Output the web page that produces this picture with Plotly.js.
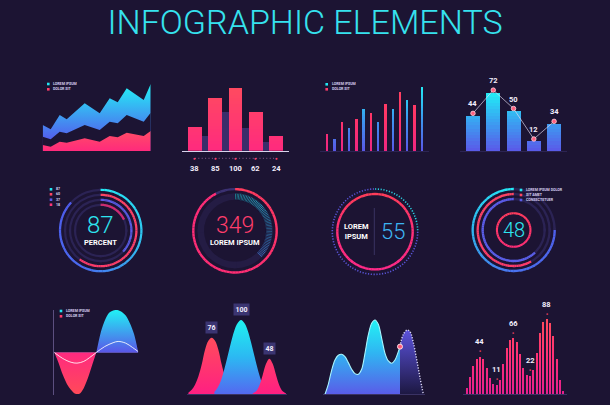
<!DOCTYPE html>
<html><head><meta charset="utf-8">
<script src="https://cdn.plot.ly/plotly-3.0.1.min.js"></script>
<style>html,body{margin:0;padding:0;background:#1c1433;}#chart{width:610px;height:405px;}
.cartesianlayer .barlayer .point path{shape-rendering:crispEdges;}</style>
</head><body><div id="chart"></div>
<script>
// ================= DATA =================
const titleText = 'INFOGRAPHIC ELEMENTS';
const legendNames = ['LOREM IPSUM', 'DOLOR SIT'];

// Panel 1 - stacked area
const areaX   = [0, 8, 17, 24, 42, 57, 67, 75, 84, 101, 108];
const areaTop = [78, 65, 108, 95, 143, 113, 158, 146, 188, 153, 201];
const areaMid = [43, 35, 58, 53, 78, 63, 88, 83, 108, 88, 115];
const areaLow = [18, 13, 28, 25, 38, 28, 45, 41, 55, 45, 60];

// Panel 2 - histogram bars
const histCats = [0, 1, 2, 3, 4];
const histVals = [38, 85, 100, 62, 24];
const histShadowX = [0.5, 1.5, 2.5, 3.5];
const histShadowVals = [23, 62, 37, 14];

// Panel 3 - thin bars, two series
const thinPinkX = [0, 2, 4, 6, 8, 10, 12];
const thinPinkVals = [51, 86, 96, 113, 142, 176, 137];
const thinBlueX = [1, 3, 5, 7, 9, 11, 13];
const thinBlueVals = [35, 68, 125, 86, 125, 153, 193];

// Panel 4 - bars + line
const comboCats = [0, 1, 2, 3, 4];
const comboBars = [44, 72, 50, 12, 34];
const comboLine = [47, 76, 53, 15, 37];

// Panel 5 - concentric percent rings
const ringVals = [87, 60, 37, 18];
const ringLabels = ['87', '60', '37', '18'];
const ringCenterText = '87';
const ringCaption = 'PERCENT';

// Panel 6 - gauge
const gaugeOuterVal = 92.5;
const gaugeInnerVal = 37.5;
const gaugeNumber = '349';
const gaugeCaption = 'LOREM IPSUM';

// Panel 7 - ring with number
const donutNumber = '55';
const donutCaption = 'LOREM<br>IPSUM';

// Panel 8 - multi ring
const multiVals = [75, 58, 62];
const multiLabels = ['LOREM IPSUM DOLOR', 'SIT AMET', 'CONSECTETUER'];
const multiNumber = '48';

// Panel 9 - wave
const waveNegX = [0, 0.5, 1, 1.5, 2, 2.5, 3, 3.5, 4, 4.5, 5];
const waveNegVals = [0, -24, -52, -74, -88, -97, -97, -84, -60, -30, 0];
const wavePosX = [5, 5.5, 6, 6.5, 7, 7.5, 8, 8.5, 9, 9.5, 10];
const wavePosVals = [0, 45, 75, 93, 99, 100, 96, 87, 69, 43, 0];
const waveLineX = [0, 1, 2, 2.7, 3.5, 4.2, 5, 6, 7, 7.6, 8.5, 9.3, 10];
const waveLineVals = [0, -14, -23, -25, -21, -12, 0, 14, 23, 26, 22, 12, 2];

// Panel 10 - three peaks
const peakAX = [25, 35, 45, 55, 65, 75, 85, 95, 105, 115, 125, 135, 145, 155, 165];
const peakAVals = [2, 6, 13, 24, 40, 60, 72, 76, 72, 60, 40, 24, 13, 6, 2];
const peakBX = [103, 113, 123, 133, 143, 153, 163, 173, 183, 193, 203, 213, 223, 233, 243, 253, 263];
const peakBVals = [3, 9, 19, 34, 52, 70, 86, 96, 100, 96, 86, 70, 52, 34, 19, 9, 3];
const peakCX = [218, 228, 238, 248, 258, 268, 278, 288, 298, 308, 318];
const peakCVals = [1, 4, 12, 26, 41, 48, 41, 26, 12, 4, 1];
const peakLabelX = [95, 183, 268];
const peakLabelVals = [76, 100, 48];

// Panel 11 - area with projected part
const solidX = [45, 55, 65, 75, 85, 95, 105, 115, 125, 135, 145, 155, 165, 175, 185, 195, 205, 215, 225, 235, 245, 255, 265, 270];
const solidVals = [0, 30, 72, 103, 117, 120, 113, 95, 75, 62, 60, 75, 123, 178, 213, 223, 210, 168, 123, 100, 93, 103, 128, 143];
const projX = [270, 280, 292, 300, 310, 320, 330, 340];
const projVals = [143, 180, 193, 188, 155, 105, 50, 0];

// Panel 12 - spike bars
const spikeX = [50, 60, 70, 80, 90, 100, 110, 120, 130, 140, 150, 160, 170, 180, 190, 200, 210, 220, 230, 240, 250, 260, 270, 280, 290, 300, 310, 320, 330, 340];
const spikeVals = [8, 20, 33, 42, 44, 41, 31, 19, 12, 11, 17, 36, 55, 64, 66, 61, 47, 31, 23, 22, 29, 49, 72, 85, 88, 84, 68, 42, 17, 4];
const spikeMarkX = [90, 140, 190, 240, 290];
const spikeMarkVals = [44, 11, 66, 22, 88];

// ================= HELPERS =================
const W = 610, H = 405, BG = '#1c1433';
const PX = p => p / W, PY = p => 1 - p / H;
function hexToRgb(h){h=h.replace('#','');return [parseInt(h.substr(0,2),16),parseInt(h.substr(2,2),16),parseInt(h.substr(4,2),16)];}
function ramp(stops,t){t=Math.max(0,Math.min(1,t));const n=stops.length-1;const s=Math.min(n-1,Math.floor(t*n));const f=t*n-s;const a=hexToRgb(stops[s]),b=hexToRgb(stops[s+1]);return 'rgb('+a.map((v,i)=>Math.round(v+(b[i]-v)*f)).join(',')+')';}

const traces = [];
const annotations = [];
const shapes = [];

// vertical colour gradient on bars: each layer covers from its level to the bar top,
// higher layers are drawn over lower ones so no seams appear
function gradBars(xs, vals, colorOf, step, width, xa, ya){
  const top = Math.max(...vals);
  for (let lo = 0; lo < top; lo += step){
    traces.push({type:'bar', x:xs, y:vals.map(v=>Math.max(0, v-lo)), base:lo, width:width,
      marker:{color:xs.map((_,i)=>colorOf(i, lo+step/2)), line:{width:0}}, xaxis:xa, yaxis:ya, hoverinfo:'skip'});
  }
}
function arc(subplot, startDeg, spanDeg, r0, thick, colorFn, nSeg, lineCfg){
  const w = spanDeg / nSeg, theta = [], cols = [];
  for (let i=0;i<nSeg;i++){theta.push(startDeg + w*(i+0.5)); cols.push(colorFn((i+0.5)/nSeg, startDeg + w*(i+0.5)));}
  traces.push({type:'barpolar', subplot:subplot, theta:theta, r:theta.map(()=>thick), base:r0,
    width: lineCfg ? w : w*1.06, marker:{color:cols, line: lineCfg || {width:0}}, hoverinfo:'skip'});
}
function txt(x, y, text, font, extra){
  annotations.push(Object.assign({xref:'paper', yref:'paper', x:PX(x), y:PY(y), text:text, showarrow:false,
    xanchor:'center', yanchor:'middle', font:Object.assign({family:'Roboto, sans-serif', color:'#ffffff', size:7.5}, font)}, extra||{}));
}
function legendItem(x, y, color, text){
  shapes.push({type:'rect', xref:'paper', yref:'paper', x0:PX(x-1.3), x1:PX(x+1.3), y0:PY(y+1.3), y1:PY(y-1.3), fillcolor:color, line:{width:0}});
  txt(x+3, y, text, {size:3.6, color:'#d6cff0', weight:700}, {xanchor:'left'});
}

// ================= PANEL 1 =================
traces.push({x:areaX, y:areaTop, xaxis:'x', yaxis:'y', mode:'lines', line:{width:0}, fill:'tozeroy',
  fillgradient:{type:'vertical', start:40, stop:200, colorscale:[[0,'#5262ee'],[1,'#22f2f6']]}, hoverinfo:'skip'});
traces.push({x:areaX, y:areaMid, xaxis:'x', yaxis:'y', mode:'lines', line:{width:0}, fill:'tozeroy', fillcolor:BG, hoverinfo:'skip'});
traces.push({x:areaX, y:areaLow, xaxis:'x', yaxis:'y', mode:'lines', line:{width:0}, fill:'tozeroy',
  fillgradient:{type:'vertical', start:0, stop:60, colorscale:[[0,'#ff2a7c'],[1,'#ff4d66']]}, hoverinfo:'skip'});
legendItem(48.3, 84, '#22e6f2', legendNames[0]);
legendItem(48.3, 89.3, '#ff3d6b', legendNames[1]);

// ================= PANEL 2 =================
traces.push({type:'bar', x:histShadowX, y:histShadowVals, width:0.62, marker:{color:'rgba(62,48,112,0.9)', line:{width:0}}, xaxis:'x2', yaxis:'y2', hoverinfo:'skip'});
gradBars(histCats, histVals, (i,y)=>ramp(['#ff2a7e','#ff4a60'], y/100), 5, 0.67, 'x2', 'y2');
shapes.push({type:'line', xref:'x2', yref:'paper', x0:0, x1:4, y0:PY(158.3), y1:PY(158.3), line:{color:'#8a5e8e', width:1, dash:'1px,2.4px'}});
histCats.forEach((c,i)=>{
  annotations.push({xref:'x2', yref:'paper', x:c, y:PY(158.3), text:'●', showarrow:false, font:{size:4.5, color:'#ff3d6b'}});
  annotations.push({xref:'x2', yref:'paper', x:c, y:PY(168.3), text:String(histVals[i]), showarrow:false, yanchor:'middle', font:{family:'Roboto, sans-serif', size:7.5, color:'#f2eefc', weight:700}});
});

// ================= PANEL 3 =================
gradBars(thinPinkX.concat(thinBlueX), thinPinkVals.concat(thinBlueVals),
  (i,y)=> i < thinPinkX.length ? ramp(['#ee2682','#ff3468','#ff4460'], y/200) : ramp(['#5a56e6','#3a9cf0','#22f0f5'], y/200),
  8, 0.32, 'x3', 'y3');
legendItem(326.7, 84.3, '#22e6f2', legendNames[0]);
legendItem(326.7, 89.3, '#ff3d6b', legendNames[1]);

// ================= PANEL 4 =================
gradBars(comboCats, comboBars, (i,y)=>ramp(['#5b58e8','#3aa2f2','#20f0f5'], y/74), 4, 0.69, 'x4', 'y4');
traces.push({x:comboCats, y:comboLine, xaxis:'x4', yaxis:'y4', mode:'lines+markers', cliponaxis:false,
  line:{color:'rgba(225,218,240,0.75)', width:0.9}, marker:{size:4.5, color:'#ff6080', line:{color:'#ffd6e0', width:0.8}}, hoverinfo:'skip'});
comboCats.forEach((c,i)=>annotations.push({xref:'x4', yref:'y4', x:c, y:comboLine[i], yshift:9.5, text:String(comboBars[i]), showarrow:false,
  font:{family:'Roboto, sans-serif', size:7.5, color:'#f2eefc', weight:700}}));

// ================= PANEL 5 (polar) =================
const p5R = [40.7, 35.7, 30.7, 25.7];
const p5Cols = [['#24ecf5','#2fc4f0','#4a6af0','#4e5cec'], ['#ff4562','#ff3a6a'], ['#5b5ce8','#5a5ee8'], ['#ff3478','#ff2a7e']];
p5R.forEach(r=>arc('polar', 0, 360, r-1.1, 2.2, ()=> '#2b2354', 4));
ringVals.forEach((v,k)=>arc('polar', 0, v*3.6, p5R[k]-1.1, 2.2, t=>ramp(p5Cols[k], t), 60));
[['#22e6f2'],['#ff4562'],['#5b5ce8'],['#ff3478']].forEach((c,k)=>legendItem(51, [189.3,194.3,199.7,204.7][k], c[0], ringLabels[k]));
txt(100.7, 225, ringCenterText, {size:24, color:'#2ee4f0', weight:300});
txt(100.7, 242.5, ringCaption, {size:7.5, weight:700});

// ================= PANEL 6 (polar2) =================
arc('polar2', 0, 360, 31, 6.5, ()=> '#241c44', 4);
arc('polar2', 0, gaugeOuterVal*3.6, 40.5, 2.4, t=>ramp(['#ff3d5c','#ff2e74','#ff2d78'], t), 80);
arc('polar2', gaugeOuterVal*3.6, 360-gaugeOuterVal*3.6, 40.5, 2.4, ()=> '#3b3172', 4);
arc('polar2', 0, gaugeInnerVal*3.6, 31, 6.5, t=>ramp(['#1fa7b4','#2a86b2','#3a62b0'], t), 54, {width:0.7, color:BG});
txt(235, 225, gaugeNumber, {size:23, color:'#ff3d6b', weight:300});
txt(235, 242.5, gaugeCaption, {size:7.5, weight:700});

// ================= PANEL 7 (polar3) =================
arc('polar3', 0, 360, 36.5, 2.4, (t,th)=>ramp(['#ff3d5a','#ff2f78','#ff2a88'], (1-Math.cos(th*Math.PI/180))/2), 72);
(function(){
  const cx=375, cy=231.7, R=42.7, k=0.5523*R;
  const P=(x,y)=>PX(x).toFixed(5)+','+PY(y).toFixed(5);
  const q1 = 'M'+P(cx,cy-R)+' C'+P(cx+k,cy-R)+' '+P(cx+R,cy-k)+' '+P(cx+R,cy);
  const q234 = 'M'+P(cx+R,cy)+' C'+P(cx+R,cy+k)+' '+P(cx+k,cy+R)+' '+P(cx,cy+R)+
               ' C'+P(cx-k,cy+R)+' '+P(cx-R,cy+k)+' '+P(cx-R,cy)+
               ' C'+P(cx-R,cy-k)+' '+P(cx-k,cy-R)+' '+P(cx,cy-R);
  shapes.push({type:'path', xref:'paper', yref:'paper', path:q234, line:{color:'#5a55d8', width:1.6, dash:'1.2px,1.6px'}});
  shapes.push({type:'path', xref:'paper', yref:'paper', path:q1, line:{color:'#2ad0e0', width:1.6, dash:'1.2px,1.6px'}});
  shapes.push({type:'line', xref:'paper', yref:'paper', x0:PX(374.3), x1:PX(374.3), y0:PY(208), y1:PY(255), line:{color:'#3a3262', width:1}});
})();
txt(356.7, 231.2, donutCaption, {size:7.5, weight:700});
txt(392.7, 231.7, donutNumber, {size:22, color:'#3cb4f2', weight:300});

// ================= PANEL 8 (polar4) =================
const p8R = [41, 36, 31];
const p8Cols = [['#24ecf5','#2fb8f0','#4a72f0','#4e60ec'], ['#ff4562','#ff3a6a'], ['#5b5ce8','#5a60ea']];
p8R.forEach(r=>arc('polar4', 0, 360, r-1.15, 2.3, ()=> '#2b2354', 4));
multiVals.forEach((v,k)=>arc('polar4', 0, v*3.6, p8R[k]-1.15, 2.3, t=>ramp(p8Cols[k], t), 60));
arc('polar4', 0, 360, 15.7, 2.1, t=>ramp(['#ff3d5c','#ff2e78','#ff3d5c'], t), 48);
[['#22e6f2'],['#ff4562'],['#5b5ce8']].forEach((c,k)=>legendItem(521, [190,195,200][k], c[0], multiLabels[k]));
txt(513.7, 230, multiNumber, {size:20, color:'#2ee4f0', weight:300});

// ================= PANEL 9 =================
traces.push({x:waveNegX, y:waveNegVals, xaxis:'x5', yaxis:'y5', mode:'lines', line:{width:0, shape:'spline', smoothing:0.8}, fill:'tozeroy',
  fillgradient:{type:'vertical', start:-100, stop:0, colorscale:[[0,'#ff4a58'],[1,'#ff2a80']]}, hoverinfo:'skip'});
traces.push({x:wavePosX, y:wavePosVals, xaxis:'x5', yaxis:'y5', mode:'lines', line:{width:0, shape:'spline', smoothing:0.8}, fill:'tozeroy',
  fillgradient:{type:'vertical', start:0, stop:100, colorscale:[[0,'#5a55e8'],[1,'#20f2f5']]}, hoverinfo:'skip'});
traces.push({x:waveLineX, y:waveLineVals, xaxis:'x5', yaxis:'y5', mode:'lines', line:{width:1, color:'rgba(255,255,255,0.85)', shape:'spline'}, hoverinfo:'skip'});
legendItem(61, 311, '#22e6f2', legendNames[0]);
legendItem(61, 316.3, '#ff3d6b', legendNames[1]);

// ================= PANEL 10 =================
const pinkPeakFill = {type:'vertical', start:0, stop:76, colorscale:[[0,'#ff1f82'],[1,'#ff4c5c']]};
traces.push({x:peakAX, y:peakAVals, xaxis:'x6', yaxis:'y6', mode:'lines', line:{width:0, shape:'spline'}, fill:'tozeroy', fillgradient:pinkPeakFill, hoverinfo:'skip'});
traces.push({x:peakBX, y:peakBVals, xaxis:'x6', yaxis:'y6', mode:'lines', line:{width:0, shape:'spline'}, fill:'tozeroy',
  fillgradient:{type:'vertical', start:0, stop:100, colorscale:[[0,'#5468f0'],[0.5,'#2cb8f2'],[1,'#1ff2f0']]}, hoverinfo:'skip'});
traces.push({x:peakCX, y:peakCVals, xaxis:'x6', yaxis:'y6', mode:'lines', line:{width:0, shape:'spline'}, fill:'tozeroy', fillgradient:pinkPeakFill, hoverinfo:'skip'});
peakLabelX.forEach((x,i)=>annotations.push({xref:'x6', yref:'y6', x:x, y:peakLabelVals[i], yshift:10.5, text:String(peakLabelVals[i]), showarrow:false,
  bgcolor:'#3b3572', borderpad:1.5, font:{family:'Roboto, sans-serif', size:7, color:'#f2eefc', weight:700}}));

// ================= PANEL 11 =================
traces.push({x:projX, y:projVals, xaxis:'x7', yaxis:'y7', mode:'lines', line:{width:1.4, color:'#d8d4f4', dash:'1.2px,1.6px', shape:'spline'}, fill:'tozeroy',
  fillgradient:{type:'vertical', start:0, stop:193, colorscale:[[0,'#1d1842'],[1,'#5b52dc']]}, hoverinfo:'skip'});
traces.push({x:solidX, y:solidVals, xaxis:'x7', yaxis:'y7', mode:'lines', line:{width:1.1, color:'#a8f6ff', shape:'spline', smoothing:0.9}, fill:'tozeroy',
  fillgradient:{type:'vertical', start:0, stop:223, colorscale:[[0,'#5a5ce8'],[0.55,'#30b4f2'],[1,'#22f2f4']]}, hoverinfo:'skip'});
traces.push({x:[solidX[solidX.length-1]], y:[solidVals[solidVals.length-1]], xaxis:'x7', yaxis:'y7', mode:'markers', cliponaxis:false,
  marker:{size:5, color:'#ff5a7a', line:{color:'#ffe0e8', width:1}}, hoverinfo:'skip'});

// ================= PANEL 12 =================
gradBars(spikeX, spikeVals, (i,y)=>ramp(['#e41f8e','#ff2f76','#ff4a5c'], y/88), 4, 6, 'x8', 'y8');
spikeMarkX.forEach((x,i)=>{
  annotations.push({xref:'x8', yref:'y8', x:x, y:spikeMarkVals[i], yshift:6, text:'●', showarrow:false, font:{size:3.5, color:'#ff4a6a'}});
  annotations.push({xref:'x8', yref:'y8', x:x, y:spikeMarkVals[i], yshift:15, text:String(spikeMarkVals[i]), showarrow:false,
    font:{family:'Roboto, sans-serif', size:7.5, color:'#f2eefc', weight:700}});
});

// ================= LAYOUT =================
const layout = {
  width:W, height:H, margin:{l:0,r:0,t:0,b:0}, paper_bgcolor:BG, plot_bgcolor:'rgba(0,0,0,0)',
  showlegend:false, barmode:'overlay',
  title:{text:titleText, x:0.5, xanchor:'center', y:PY(22), yanchor:'middle', yref:'container',
    font:{family:'Roboto, sans-serif', size:34, color:'#36e2ee', weight:300}},
  annotations:annotations, shapes:shapes
};
const cart = {
  1:{x:[42.7,150.7], y:[84,151], xr:[0,108], yr:[0,201]},
  2:{x:[181.7,289.3], y:[88.3,150.7], xr:[-0.65,4.65], yr:[0,100], line:'#d9d3ec', lw:1.2},
  3:{x:[320,429], y:[84.3,151], xr:[-1,14], yr:[0,200], line:'#2c2452', lw:1},
  4:{x:[460,566.7], y:[76,151], xr:[-0.64,4.62], yr:[0,93.6], line:'#2c2452', lw:1},
  5:{x:[54.3,138.3], y:[310,395], xr:[0,10], yr:[-100,100]},
  6:{x:[186.7,286.7], y:[314.3,394.3], xr:[20,320], yr:[0,107.7], line:'#3a3264', lw:1},
  7:{x:[323.3,425], y:[314.3,394.3], xr:[40,345], yr:[0,240], line:'#3a3264', lw:1},
  8:{x:[463.3,566.7], y:[305,394.3], xr:[40,350], yr:[0,105], line:'#3a3264', lw:1}
};
Object.keys(cart).forEach(k=>{
  const c = cart[k], sx = k==='1' ? '' : k;
  const base = {showgrid:false, zeroline:false, showticklabels:false, ticks:'', fixedrange:true};
  layout['xaxis'+sx] = Object.assign({}, base, {domain:[PX(c.x[0]),PX(c.x[1])], range:c.xr, anchor:'y'+sx,
    showline:!!c.line, linecolor:c.line||'#000', linewidth:c.lw||1});
  layout['yaxis'+sx] = Object.assign({}, base, {domain:[PY(c.y[1]),PY(c.y[0])], range:c.yr, anchor:'x'+sx, showline:false});
});
layout.yaxis5.showline = true; layout.yaxis5.linecolor = '#5c4f80'; layout.yaxis5.linewidth = 1;
layout.yaxis5.zeroline = true; layout.yaxis5.zerolinecolor = '#5c4f80'; layout.yaxis5.zerolinewidth = 1;

const polars = {polar:[100.7,230.5,'clockwise'], polar2:[235,230.8,'clockwise'], polar3:[375,231.7,'clockwise'], polar4:[513.7,230,'counterclockwise']};
Object.keys(polars).forEach(p=>{
  const [cx,cy,dir] = polars[p];
  layout[p] = {domain:{x:[PX(cx-45),PX(cx+45)], y:[PY(cy+45),PY(cy-45)]}, bgcolor:'rgba(0,0,0,0)', barmode:'overlay', hole:0,
    radialaxis:{visible:false, range:[0,45]}, angularaxis:{visible:false, rotation:90, direction:dir}};
});

Plotly.newPlot('chart', traces, layout, {staticPlot:true, displayModeBar:false});
</script>
</body></html>
